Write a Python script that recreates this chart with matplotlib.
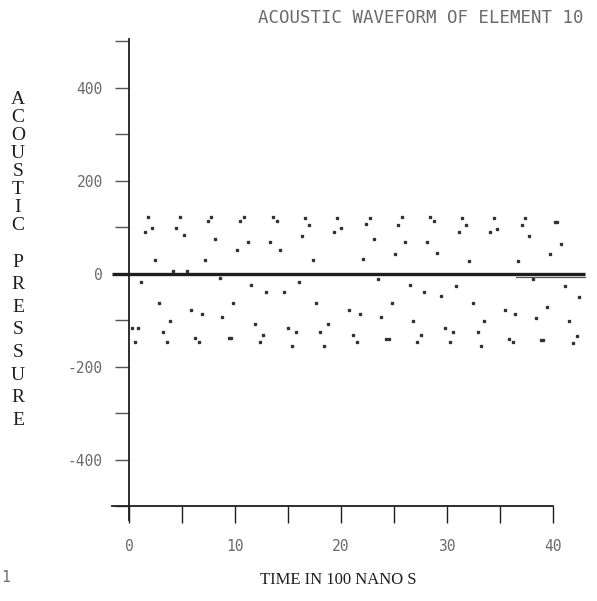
import matplotlib
matplotlib.use("Agg")
import matplotlib.pyplot as plt

plt.rcParams['axes.unicode_minus'] = False

# sampled points of the waveform (time in 100 ns, pressure)
time_pts = [1.80, 1.48, 2.17, 4.79, 4.47, 5.17, 2.49, 7.78, 7.47, 8.13, 7.16, 4.19, 5.51,
            8.54, 1.16, 2.81, 5.83, 6.84, 3.85, 8.82, 0.85, 0.28, 3.24, 0.54, 3.59, 6.21,
            6.59, 9.43, 9.65, 9.83, 10.81, 10.50, 13.59, 13.93, 16.64, 16.99, 16.36, 19.64,
            19.36, 11.19, 10.15, 13.27, 14.28, 17.33, 16.01, 11.51, 12.93, 14.59, 17.65,
            11.91, 18.75, 15.04, 15.73, 12.64, 18.03, 12.32, 15.41, 18.44, 19.98, 22.70,
            22.38, 23.07, 25.75, 25.41, 28.43, 28.75, 26.07, 28.11, 25.08, 29.10, 22.06,
            23.48, 26.51, 27.80, 29.48, 24.78, 20.74, 21.75, 23.76, 26.79, 21.09, 27.55,
            21.47, 24.27, 24.52, 27.21, 29.79, 31.42, 31.77, 31.14, 34.39, 34.07, 34.73,
            37.35, 37.04, 37.70, 40.19, 40.41, 40.73, 39.72, 32.09, 36.72, 38.14, 30.86,
            41.16, 32.43, 35.46, 36.43, 39.40, 38.39, 33.48, 41.48, 30.54, 32.88, 30.26,
            33.22, 35.84, 36.19, 38.84, 39.08, 42.49, 42.27, 41.89]
pressure_pts = [121, 89, 97, 122, 98, 83, 29, 121, 113, 74, 29, 5, 5,
                -10, -18, -63, -78, -86, -102, -94, -118, -118, -125, -148, -148, -139,
                -147, -139, -139, -63, 122, 114, 122, 113, 120, 105, 81, 120,
                89, 67, 51, 67, 51, 29, -18, -25, -40, -39, -63,
                -109, -109, -117, -125, -132, -125, -147, -155, -155, 97, 120,
                106, 74, 121, 105, 122, 114, 67, 67, 43, 44, 31,
                -11, -25, -40, -48, -64, -78, -86, -94, -102, -132, -132,
                -148, -140, -140, -148, -118, 120, 104, 89, 120, 89, 96,
                120, 104, 81, 111, 111, 64, 42, 28, 28, -12, -26,
                -27, -64, -79, -87, -72, -95, -102, -102, -126, -126, -148,
                -155, -141, -148, -142, -142, -50, -134, -150]

# near-zero trace drawn along the time axis
baseline_t = [-1.6, 43.0]
baseline_p = [0, 0]
second_t = [36.5, 43.0]
second_p = [-8, -8]

x_ticks = [0, 5, 10, 15, 20, 25, 30, 35, 40]
x_labels = ['0', '', '10', '', '20', '', '30', '', '40']
y_ticks = [-500, -400, -300, -200, -100, 0, 100, 200, 300, 400, 500]
y_labels = ['', '-400', '', '-200', '', '0', '', '200', '', '400', '']

dot_font = 'DejaVu Sans Mono'
serif_font = 'Liberation Serif'
ink = '#1e1e1e'
grey = '#6a6a6a'

fig = plt.figure(figsize=(5.97, 6.01), dpi=100)
ax = fig.add_axes([0.1877, 0.1271, 0.8007, 0.8201])

ax.plot(baseline_t, baseline_p, color=ink, lw=2.4, solid_capstyle='butt')
ax.plot(second_t, second_p, color='#555555', lw=0.9)
ax.plot(time_pts, pressure_pts, ls='none', marker='s', ms=1.8, color='#333333')

ax.set_xlim(-1.6, 43.5)
ax.set_ylim(-540, 520)

ax.spines['top'].set_visible(False)
ax.spines['right'].set_visible(False)
ax.spines['left'].set_position(('data', 0))
ax.spines['left'].set_bounds(-530, 505)
ax.spines['bottom'].set_position(('data', -500))
ax.spines['bottom'].set_bounds(-1.6, 40)
for s in ['left', 'bottom']:
    ax.spines[s].set_color(ink)
    ax.spines[s].set_linewidth(1.3)

ax.set_xticks(x_ticks)
ax.set_xticklabels(x_labels, fontfamily=dot_font)
ax.set_yticks(y_ticks)
ax.set_yticklabels(y_labels, fontfamily=dot_font)
ax.tick_params(axis='x', direction='out', length=12, width=1.0, color=ink,
               pad=12, labelsize=10.5, labelcolor=grey)
ax.tick_params(axis='y', direction='out', length=10, width=1.0, color='#555555',
               pad=9, labelsize=10.5, labelcolor=grey)

fig.text(258 / 597, 1 - 18 / 601, 'ACOUSTIC WAVEFORM OF ELEMENT 10',
         family=dot_font, fontsize=12.5, color=grey, ha='left', va='center')

fig.text(338 / 597, 1 - 580 / 601, 'TIME IN 100 NANO S',
         family=serif_font, fontsize=12, color=ink, ha='center', va='center')

for i, ch in enumerate('ACOUSTIC'):
    fig.text(18 / 597, 1 - (100 + i * 17.9) / 601, ch, family=serif_font,
             fontsize=14, color=ink, ha='center', va='center')
for i, ch in enumerate('PRESSURE'):
    fig.text(18 / 597, 1 - (262 + i * 22.6) / 601, ch, family=serif_font,
             fontsize=14, color=ink, ha='center', va='center')

fig.text(0.002, 1 - 577 / 601, '1', family=dot_font, fontsize=10.5,
         color=grey, ha='left', va='center')

fig.savefig('out.png', dpi=100, facecolor='white')
